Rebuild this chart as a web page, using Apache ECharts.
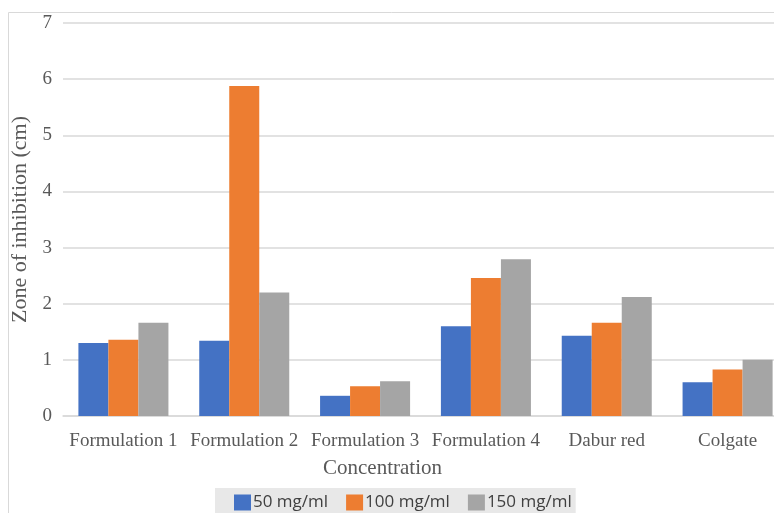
<!DOCTYPE html>
<html><head><meta charset="utf-8">
<script src="https://cdn.jsdelivr.net/npm/echarts@6/dist/echarts.min.js"></script>
<style>html,body{margin:0;padding:0;background:#fff}#c{width:774px;height:513px}</style>
</head><body><div id="c"></div>
<script>
var categories = ['Formulation 1','Formulation 2','Formulation 3','Formulation 4','Dabur red','Colgate'];
var seriesNames = ['50 mg/ml','100 mg/ml','150 mg/ml'];
var values50 = [1.30, 1.34, 0.36, 1.60, 1.43, 0.60];
var values100 = [1.36, 5.88, 0.53, 2.46, 1.66, 0.83];
var values150 = [1.66, 2.20, 0.62, 2.79, 2.12, 1.00];
var yTicks = [0,1,2,3,4,5,6,7];
var colors = ['#4472C4','#ED7D31','#A5A5A5'];

var chart = echarts.init(document.getElementById('c'), null, {renderer:'canvas'});
var serif = '"Liberation Serif", "Times New Roman", serif';
var data = [values50, values100, values150];
chart.setOption({
  animation:false,
  color: colors,
  graphic:[{type:'rect', shape:{x:8.5,y:12.5,width:820,height:600}, style:{fill:'none',stroke:'#d9d9d9',lineWidth:1}, z:-10}],
  grid:{left:63, width:725, top:23, bottom:97, containLabel:false, outerBoundsMode:'none'},
  legend:{
    data: seriesNames, bottom:-6, left:215,
    backgroundColor:'#e8e8e8', padding:[6,4,8,19],
    itemWidth:17, itemHeight:16, itemGap:18, icon:'rect',
    textStyle:{fontFamily:'"Open Sans", "Noto Sans", sans-serif', fontSize:17, color:'#404040', padding:[0,0,0,-3]}
  },
  xAxis:{
    type:'category', data:categories,
    name:'Concentration', nameLocation:'middle', nameGap:42,
    nameTextStyle:{fontFamily:serif, fontSize:21, color:'#595959', padding:[0,86,0,0]},
    axisLine:{lineStyle:{color:'#d9d9d9', width:1.5}}, axisTick:{show:false},
    axisLabel:{fontFamily:serif, fontSize:19, color:'#595959', margin:16, interval:0}
  },
  yAxis:{
    type:'value', min:yTicks[0], max:yTicks[yTicks.length-1], interval:1,
    name:'Zone of inhibition (cm)', nameLocation:'middle', nameGap:30, nameRotate:90,
    nameTextStyle:{fontFamily:serif, fontSize:22, color:'#595959'},
    axisLine:{show:false}, axisTick:{show:false},
    axisLabel:{fontFamily:serif, fontSize:19, color:'#595959', margin:11},
    splitLine:{lineStyle:{color:'#d9d9d9', width:1.5}}
  },
  series: seriesNames.map(function(n,i){
    return {name:n, type:'bar', data:data[i], barGap:'0%', barCategoryGap:'25.5%'};
  })
});
</script></body></html>
